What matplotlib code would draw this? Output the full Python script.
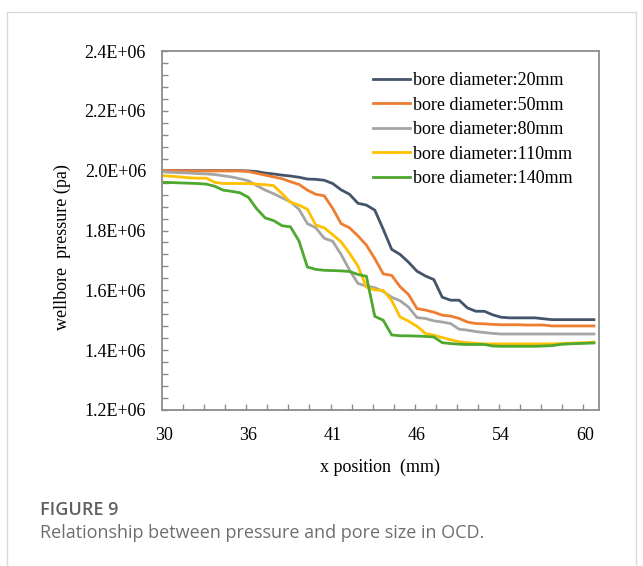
import matplotlib
matplotlib.use("Agg")
import matplotlib.pyplot as plt
from matplotlib.ticker import FuncFormatter, MultipleLocator, FixedLocator
from matplotlib.lines import Line2D

# category axis: one point per x position, labels every 10th point
tick_labels = ['30', '36', '41', '46', '54', '60']
label_idx = [0, 10, 20, 30, 40, 50]

# wellbore pressure (x1e6 pa)
p_20mm = [2.000, 2.000, 2.000, 2.000, 2.000, 2.000, 2.000, 2.000, 2.000, 2.000,
          1.999, 1.997, 1.992, 1.989, 1.985, 1.982, 1.978, 1.972, 1.971, 1.968,
          1.957, 1.936, 1.921, 1.891, 1.885, 1.868, 1.804, 1.737, 1.720, 1.694,
          1.664, 1.648, 1.636, 1.577, 1.567, 1.567, 1.541, 1.530, 1.530, 1.518,
          1.510, 1.508, 1.508, 1.508, 1.508, 1.505, 1.502, 1.502, 1.502, 1.502,
          1.502, 1.502]
p_50mm = [2.000, 2.000, 1.999, 1.999, 1.999, 1.999, 1.999, 1.999, 1.999, 1.999,
          1.997, 1.991, 1.985, 1.979, 1.973, 1.963, 1.954, 1.935, 1.921, 1.916,
          1.874, 1.823, 1.809, 1.782, 1.751, 1.706, 1.655, 1.650, 1.612, 1.586,
          1.539, 1.534, 1.527, 1.517, 1.514, 1.506, 1.494, 1.489, 1.488, 1.486,
          1.485, 1.485, 1.485, 1.484, 1.484, 1.484, 1.481, 1.481, 1.481, 1.481,
          1.481, 1.481]
p_80mm = [1.996, 1.994, 1.993, 1.992, 1.990, 1.989, 1.987, 1.983, 1.979, 1.973,
          1.966, 1.950, 1.935, 1.923, 1.909, 1.896, 1.871, 1.823, 1.809, 1.774,
          1.764, 1.720, 1.668, 1.623, 1.614, 1.609, 1.596, 1.577, 1.565, 1.544,
          1.509, 1.506, 1.498, 1.494, 1.489, 1.470, 1.467, 1.462, 1.459, 1.456,
          1.454, 1.454, 1.454, 1.454, 1.454, 1.454, 1.454, 1.454, 1.454, 1.454,
          1.454, 1.454]
p_110mm = [1.983, 1.981, 1.979, 1.976, 1.975, 1.975, 1.961, 1.957, 1.957, 1.957,
           1.957, 1.955, 1.953, 1.950, 1.923, 1.894, 1.885, 1.871, 1.818, 1.809,
           1.786, 1.762, 1.724, 1.681, 1.611, 1.601, 1.600, 1.566, 1.511, 1.497,
           1.480, 1.456, 1.450, 1.442, 1.435, 1.428, 1.425, 1.423, 1.421, 1.421,
           1.421, 1.421, 1.421, 1.421, 1.421, 1.421, 1.421, 1.422, 1.423, 1.424,
           1.425, 1.427]
p_140mm = [1.961, 1.960, 1.959, 1.958, 1.957, 1.955, 1.948, 1.935, 1.931, 1.926,
           1.911, 1.872, 1.842, 1.833, 1.816, 1.812, 1.765, 1.678, 1.670, 1.667,
           1.666, 1.665, 1.663, 1.653, 1.647, 1.513, 1.500, 1.451, 1.448, 1.448,
           1.447, 1.446, 1.444, 1.425, 1.422, 1.420, 1.419, 1.419, 1.419, 1.414,
           1.413, 1.413, 1.413, 1.413, 1.413, 1.414, 1.415, 1.419, 1.421, 1.422,
           1.423, 1.424]

series = [p_20mm, p_50mm, p_80mm, p_110mm, p_140mm]
names = ['bore diameter:20mm', 'bore diameter:50mm', 'bore diameter:80mm',
         'bore diameter:110mm', 'bore diameter:140mm']
colors = ['#44546A', '#ED7D31', '#A5A5A5', '#FFC000', '#4EA72E']

serif = ['Liberation Serif', 'DejaVu Serif']
fs = 13
W, H = 643, 566

fig = plt.figure(figsize=(W / 100, H / 100), dpi=100)
ax = fig.add_axes([162 / W, 1 - 410 / H, (599 - 162) / W, (410 - 51) / H])

for vals, name, c in zip(series, names, colors):
    ax.plot(range(len(vals)), [v * 1e6 for v in vals], color=c, lw=2.0,
            label=name, solid_joinstyle='miter')

ax.set_xlim(-0.25, 51.6)
ax.set_ylim(1.2e6, 2.4e6)

# y axis
ax.yaxis.set_major_locator(MultipleLocator(0.2e6))
ax.yaxis.set_minor_locator(MultipleLocator(0.04e6))
ax.yaxis.set_major_formatter(FuncFormatter(lambda v, p: '{:.1E}'.format(v)))
ax.tick_params(axis='y', which='both', direction='in', length=4, width=1,
               color='#8C8C8C', pad=11.5, labelsize=fs)

# x axis: labels every 10 points, small ticks every 2.5 points
ax.xaxis.set_major_locator(FixedLocator(label_idx))
ax.set_xticklabels(tick_labels)
ax.xaxis.set_minor_locator(FixedLocator([-0.25 + 2.5 * k for k in range(1, 21)]))
ax.tick_params(axis='x', which='major', length=0, pad=12.5, labelsize=fs)
ax.tick_params(axis='x', which='minor', direction='in', length=4, width=1,
               color='#8C8C8C')

for lab in ax.get_xticklabels() + ax.get_yticklabels():
    lab.set_family(serif)

for s in ax.spines.values():
    s.set_color('#8C8C8C')
    s.set_linewidth(1.3)

ax.set_xlabel('x position  (mm)', family=serif, fontsize=fs, labelpad=10)
ax.set_ylabel('wellbore  pressure (pa)', family=serif, fontsize=fs)
ax.yaxis.set_label_coords((71 - 162) / 437, 0.454)

leg = ax.legend(loc='upper left', bbox_to_anchor=(373 / W, 1 - 72 / H),
                bbox_transform=fig.transFigure, frameon=False,
                prop={'family': serif, 'size': fs}, handlelength=2.05,
                handletextpad=0.17, labelspacing=0.42, borderpad=0,
                borderaxespad=0)

# page frame and caption
frame_col = '#D9D9D9'
fig.add_artist(Line2D([7 / W, 636 / W], [1 - 12 / H, 1 - 12 / H],
                      transform=fig.transFigure, color=frame_col, lw=1))
fig.add_artist(Line2D([7 / W, 7 / W], [1 - 12 / H, 0],
                      transform=fig.transFigure, color=frame_col, lw=1))
fig.add_artist(Line2D([636 / W, 636 / W], [1 - 12 / H, 0],
                      transform=fig.transFigure, color=frame_col, lw=1))

fig.text(40 / W, 1 - 510 / H, 'FIGURE 9', family=['Open Sans', 'DejaVu Sans'],
         fontsize=13, fontweight='semibold', color='#5F5F5F', va='center')
fig.text(40 / W, 1 - 533 / H, 'Relationship between pressure and pore size in OCD.',
         family=['Open Sans', 'DejaVu Sans'], fontsize=13, color='#6E6E6E',
         va='center')

fig.savefig('out.png', dpi=100)
